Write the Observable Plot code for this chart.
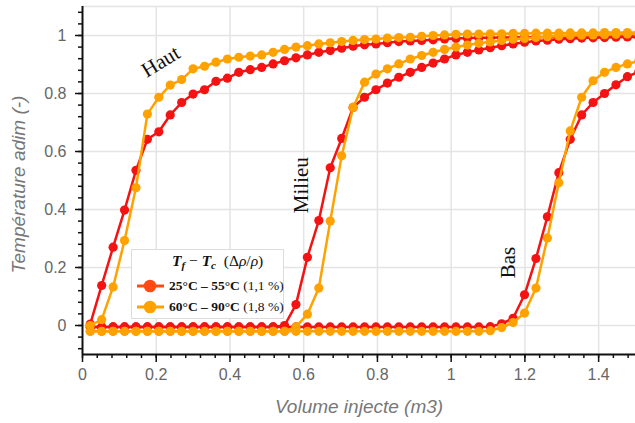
<!DOCTYPE html>
<html><head><meta charset="utf-8">
<script src="https://cdn.jsdelivr.net/npm/d3@7"></script>
<script src="https://cdn.jsdelivr.net/npm/@observablehq/plot@0.6"></script>
<style>
body{margin:0;background:#fff;}
#wrap{position:relative;width:635px;height:423px;overflow:hidden;}
#legend{position:absolute;left:131px;top:249px;width:151px;height:68px;background:rgba(255,255,255,0.96);border:1px solid #dcdcdc;font-family:"Liberation Serif","Times New Roman",serif;color:#111;}
#legend .ttl{position:absolute;left:40px;top:2px;font-size:15.5px;white-space:nowrap;}
#legend .row{position:absolute;left:4px;height:16px;white-space:nowrap;font-size:13.5px;line-height:16px;}
#legend .row svg{position:absolute;left:0;top:1px;}
#legend .row span{position:absolute;left:33px;top:0;}
sub{font-size:11px;vertical-align:-3px;line-height:0;}
</style></head>
<body><div id="wrap"></div>
<script>
// ---- data ----
const vol = [0.021,0.052,0.083,0.114,0.145,0.176,0.207,0.238,0.269,0.300,0.331,0.362,0.393,0.424,0.455,0.486,0.517,0.548,0.579,0.610,0.641,0.672,0.703,0.734,0.765,0.796,0.827,0.858,0.889,0.920,0.951,0.982,1.013,1.044,1.075,1.106,1.137,1.168,1.199,1.230,1.261,1.292,1.323,1.354,1.385,1.416,1.447,1.478,1.509];

const hautRed = [0.005,0.138,0.270,0.398,0.535,0.642,0.668,0.726,0.769,0.798,0.813,0.842,0.853,0.873,0.882,0.890,0.902,0.913,0.923,0.933,0.942,0.948,0.956,0.963,0.968,0.971,0.975,0.979,0.981,0.983,0.985,0.988,0.990,0.991,0.992,0.992,0.993,0.993,0.994,0.994,0.995,0.995,0.995,0.996,0.996,0.996,0.997,0.997,0.997];
const hautOrange = [0.000,0.020,0.133,0.293,0.475,0.729,0.787,0.829,0.848,0.885,0.894,0.908,0.919,0.925,0.929,0.933,0.942,0.952,0.960,0.965,0.971,0.975,0.979,0.983,0.986,0.988,0.991,0.993,0.994,0.997,1.000,1.002,1.004,1.005,1.005,1.006,1.006,1.007,1.007,1.008,1.008,1.008,1.009,1.009,1.009,1.010,1.010,1.010,1.010];

const milieuRed = [-0.005,-0.005,-0.005,-0.005,-0.005,-0.005,-0.005,-0.005,-0.005,-0.005,-0.005,-0.005,-0.005,-0.005,-0.005,-0.005,-0.005,0.000,0.072,0.235,0.362,0.544,0.645,0.752,0.787,0.813,0.836,0.856,0.873,0.890,0.905,0.919,0.933,0.942,0.950,0.958,0.965,0.971,0.977,0.981,0.984,0.987,0.989,0.991,0.992,0.993,0.994,0.995,0.995];
const milieuOrange = [-0.020,-0.020,-0.020,-0.020,-0.020,-0.020,-0.020,-0.020,-0.020,-0.020,-0.020,-0.020,-0.020,-0.020,-0.020,-0.020,-0.020,-0.020,-0.005,0.039,0.129,0.360,0.585,0.752,0.839,0.867,0.885,0.902,0.919,0.931,0.942,0.952,0.960,0.967,0.973,0.978,0.983,0.987,0.990,0.993,0.996,0.998,1.000,1.001,1.002,1.003,1.004,1.005,1.005];

const basRed = [-0.005,-0.005,-0.005,-0.005,-0.005,-0.005,-0.005,-0.005,-0.005,-0.005,-0.005,-0.005,-0.005,-0.005,-0.005,-0.005,-0.005,-0.005,-0.005,-0.005,-0.005,-0.005,-0.005,-0.005,-0.005,-0.005,-0.005,-0.005,-0.005,-0.005,-0.005,-0.005,-0.005,-0.005,-0.005,-0.004,0.006,0.025,0.106,0.231,0.375,0.527,0.642,0.726,0.769,0.800,0.830,0.858,0.875];
const basOrange = [-0.020,-0.020,-0.020,-0.020,-0.020,-0.020,-0.020,-0.020,-0.020,-0.020,-0.020,-0.020,-0.020,-0.020,-0.020,-0.020,-0.020,-0.020,-0.020,-0.020,-0.020,-0.020,-0.020,-0.020,-0.020,-0.020,-0.020,-0.020,-0.020,-0.020,-0.020,-0.020,-0.020,-0.020,-0.020,-0.018,-0.007,0.010,0.043,0.129,0.302,0.492,0.671,0.787,0.844,0.873,0.890,0.902,0.912];

const xTicks = [0,0.2,0.4,0.6,0.8,1,1.2,1.4];
const yTicks = [0,0.2,0.4,0.6,0.8,1];
const curveNames = ["Haut","Milieu","Bas"];
const labelAt = [
  {label:"Haut",   vol:0.212, temp:0.91},
  {label:"Milieu", vol:0.593, temp:0.484},
  {label:"Bas",    vol:1.155, temp:0.217}
];
const legendItems = [
  {range:"25°C – 55°C", pct:"(1,1 %)"},
  {range:"60°C – 90°C", pct:"(1,8 %)"}
];

// ---- build rows ----
function rows(arrs){
  const out=[];
  arrs.forEach((a,k)=>a.forEach((t,i)=>out.push({vol:vol[i],temp:t,curve:curveNames[k]})));
  return out;
}
const redRows = rows([hautRed,milieuRed,basRed]);
const orangeRows = rows([hautOrange,milieuOrange,basOrange]);

const RED="#f41212", ORANGE="#ffa200";
const xMinor = d3.range(0,1.52,0.04).map(d=>+d.toFixed(2));
const yMinor = d3.range(-0.08,1.1,0.04).map(d=>+d.toFixed(2));
const fmt = d => String(+(+d).toFixed(2));

const chart = Plot.plot({
  width:635, height:423,
  marginLeft:82, marginRight:0, marginTop:6, marginBottom:69,
  x:{domain:[0,1.5]},
  y:{domain:[-0.1,1.1]},
  style:{fontFamily:"'Liberation Sans', Arial, sans-serif", background:"white"},
  marks:[
    Plot.gridX(xTicks.slice(1),{stroke:"#e4e4e4",strokeOpacity:1,strokeWidth:1.5}),
    Plot.gridY(yTicks,{stroke:"#e4e4e4",strokeOpacity:1,strokeWidth:1.5}),
    Plot.ruleY([1.1],{stroke:"#e4e4e4",strokeWidth:1.5}),
    Plot.line(redRows,{x:"vol",y:"temp",z:"curve",stroke:RED,strokeWidth:2.5,clip:true}),
    Plot.dot(redRows,{x:"vol",y:"temp",r:4.6,fill:RED,clip:true}),
    Plot.line(orangeRows,{x:"vol",y:"temp",z:"curve",stroke:ORANGE,strokeWidth:2.5,clip:true}),
    Plot.dot(orangeRows,{x:"vol",y:"temp",r:4.6,fill:ORANGE,clip:true}),
    Plot.ruleX([0],{stroke:"#111",strokeWidth:2}),
    Plot.ruleY([-0.1],{stroke:"#111",strokeWidth:2}),
    Plot.axisX(xMinor,{tickSize:4,stroke:"#111",strokeWidth:1.5,tickFormat:()=>"",label:null}),
    Plot.axisX(xTicks,{tickSize:8,stroke:"#111",strokeWidth:1.5,fill:"#666",fontSize:16,tickPadding:6,tickFormat:fmt,label:null}),
    Plot.axisY(yMinor,{tickSize:4,stroke:"#111",strokeWidth:1.5,tickFormat:()=>"",label:null}),
    Plot.axisY(yTicks,{tickSize:7,stroke:"#111",strokeWidth:1.5,fill:"#666",fontSize:16,tickPadding:9,tickFormat:fmt,label:null}),
    Plot.text(["Volume injecte (m3)"],{text:d=>d,frameAnchor:"bottom",textAnchor:"middle",dy:58,fontSize:19,fontStyle:"italic",fill:"#777"}),
    Plot.text(["Température adim (-)"],{text:d=>d,frameAnchor:"left",textAnchor:"middle",dx:-64,dy:4,rotate:-90,fontSize:19,fontStyle:"italic",fill:"#777"}),
    Plot.text(labelAt.filter(d=>d.label==="Haut"),{x:"vol",y:"temp",text:"label",rotate:-31,fontSize:21,fontFamily:"'Liberation Serif', 'Times New Roman', serif",fill:"#111"}),
    Plot.text(labelAt.filter(d=>d.label!=="Haut"),{x:"vol",y:"temp",text:"label",rotate:-90,fontSize:21,fontFamily:"'Liberation Serif', 'Times New Roman', serif",fill:"#111"})
  ]
});
const wrap=document.getElementById("wrap");
wrap.appendChild(chart);

// legend overlay
const lg=document.createElement("div");
lg.id="legend";
let html='<div class="ttl"><b><i>T<sub>f</sub></i></b> − <b><i>T<sub>c</sub></i></b>&nbsp; (Δ<i>ρ</i>/<i>ρ</i>)</div>';
const cols=["#ff4a12",ORANGE];
legendItems.forEach((it,i)=>{
  const top=[28,49][i];
  html+=`<div class="row" style="top:${top}px"><svg width="30" height="14"><line x1="1" y1="7" x2="28" y2="7" stroke="${cols[i]}" stroke-width="3"/><circle cx="14" cy="7" r="6.3" fill="${cols[i]}"/></svg><span><b>${it.range}</b> ${it.pct}</span></div>`;
});
lg.innerHTML=html;
wrap.appendChild(lg);
</script>
</body></html>
